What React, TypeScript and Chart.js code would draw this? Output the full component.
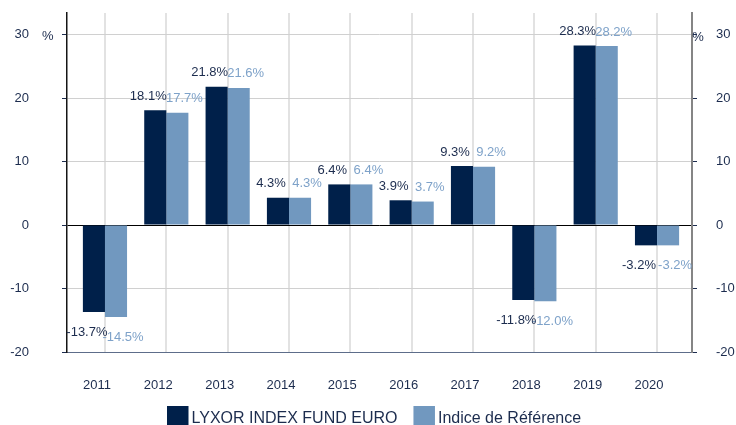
import React, { useEffect, useRef } from "react";
import { Chart, registerables } from "chart.js";

Chart.register(...registerables);

const years = ["2011", "2012", "2013", "2014", "2015", "2016", "2017", "2018", "2019", "2020"];
const fundValues = [-13.7, 18.1, 21.8, 4.3, 6.4, 3.9, 9.3, -11.8, 28.3, -3.2];
const indexValues = [-14.5, 17.7, 21.6, 4.3, 6.4, 3.7, 9.2, -12.0, 28.2, -3.2];
const yTickValues = [-20, -10, 0, 10, 20, 30];
const seriesNames = ["LYXOR INDEX FUND EURO", "Indice de Référence"];
const unitLabel = "%";

const FONT = "'Liberation Sans', Arial, Helvetica, sans-serif";
const NAVY = "#00204a";
const STEEL = "#7198bf";
const TEXT = "#1c2c4e";
const LIGHT_TEXT = "#7ea2c9";

const shiftPlugin = {
  id: "xShift",
  afterLayout(chart: any) {
    const x = chart.scales.x;
    const start = x.left + 7.3;
    const end = x.right - 4.3;
    x._startPixel = start;
    x._endPixel = end;
    x._length = end - start;
  },
};

const labelPlugin = {
  id: "valueLabels",
  afterDatasetsDraw(chart: any) {
    const ctx = chart.ctx;
    ctx.save();
    ctx.font = `13px ${FONT}`;
    ctx.textAlign = "center";
    ctx.textBaseline = "middle";
    const order = [1, 0];
    order.forEach((di) => {
      const ds = chart.data.datasets[di];
      const meta = chart.getDatasetMeta(di);
      ctx.fillStyle = di === 0 ? TEXT : LIGHT_TEXT;
      meta.data.forEach((el: any, i: number) => {
        const v = ds.data[i] as number;
        const x = el.x + (di === 0 ? -7 : 7);
        const y = v >= 0 ? el.y - 14 : el.y + 20;
        ctx.fillText(v.toFixed(1) + "%", x, y);
      });
    });
    ctx.restore();
  },
  afterDraw(chart: any) {
    const ctx = chart.ctx;
    ctx.save();
    ctx.font = `13px ${FONT}`;
    ctx.fillStyle = TEXT;
    ctx.textAlign = "center";
    ctx.textBaseline = "middle";
    const yPix = chart.scales.y.getPixelForValue(30);
    ctx.fillText(unitLabel, 47.7, yPix + 2);
    ctx.fillText(unitLabel, chart.chartArea.right + 6, yPix + 3);
    ctx.font = `16px ${FONT}`;
    ctx.textAlign = "left";
    let x = 167;
    const boxY = 406;
    chart.data.datasets.forEach((ds: any) => {
      ctx.fillStyle = ds.backgroundColor;
      ctx.fillRect(x, boxY, 21.5, 19);
      ctx.fillStyle = TEXT;
      const tx = x + 24.5;
      ctx.fillText(ds.label, tx, boxY + 12.5);
      x = tx + ctx.measureText(ds.label).width + 16;
    });
    ctx.restore();
  },
};

const fixV = (w: number) => (s: any) => {
  s.width = w;
  s.paddingTop = 0;
  s.paddingBottom = 0;
};

export default function App() {
  const ref = useRef<HTMLCanvasElement | null>(null);

  useEffect(() => {
    if (!ref.current) return;
    const chart = new Chart(ref.current, {
      type: "bar",
      data: {
        labels: years,
        datasets: [
          {
            label: seriesNames[0],
            data: fundValues,
            backgroundColor: NAVY,
            categoryPercentage: 0.72,
            barPercentage: 1.0,
          },
          {
            label: seriesNames[1],
            data: indexValues,
            backgroundColor: STEEL,
            categoryPercentage: 0.72,
            barPercentage: 1.0,
          },
        ],
      },
      options: {
        responsive: false,
        animation: false,
        layout: { padding: { top: 13, left: 0, right: 0, bottom: 0 } },
        plugins: {
          legend: { display: false },
          tooltip: { enabled: false },
        },
        scales: {
          x: {
            offset: true,
            grid: {
              offset: false,
              color: "#e2e2e2",
              lineWidth: 2,
              drawTicks: false,
            },
            border: { display: true, color: "#5d6d8a", width: 1 },
            ticks: {
              padding: 26,
              labelOffset: -8,
              color: TEXT,
              font: { family: FONT, size: 13 },
              maxRotation: 0,
            },
            afterFit: (s: any) => {
              s.height = 73;
            },
          },
          y: {
            position: "left",
            min: -20,
            max: 33.4,
            afterBuildTicks: (s: any) => {
              s.ticks = yTickValues.map((v) => ({ value: v }));
            },
            grid: {
              color: (c: any) => (c.tick && c.tick.value === 0 ? "#000000" : "#d0d0d0"),
              lineWidth: 1,
              tickLength: 5,
              tickColor: TEXT,
            },
            border: { display: true, color: "#151515", width: 1.5 },
            ticks: {
              padding: 33,
              color: TEXT,
              font: { family: FONT, size: 13 },
            },
            afterFit: fixV(67),
          },
          y2: {
            position: "right",
            min: -20,
            max: 33.4,
            afterBuildTicks: (s: any) => {
              s.ticks = yTickValues.map((v) => ({ value: v }));
            },
            grid: {
              drawOnChartArea: false,
              tickLength: 5,
              tickColor: TEXT,
            },
            border: { display: true, color: "#858585", width: 2 },
            ticks: {
              padding: 19,
              color: TEXT,
              font: { family: FONT, size: 13 },
            },
            afterFit: fixV(44),
          },
        },
      },
      plugins: [shiftPlugin, labelPlugin],
    });
    return () => chart.destroy();
  }, []);

  return (
    <div style={{ position: "absolute", left: 0, top: 0, width: 736, height: 425, background: "#fff" }}>
      <canvas ref={ref} width={736} height={425} style={{ display: "block", width: 736, height: 425 }} />
    </div>
  );
}
